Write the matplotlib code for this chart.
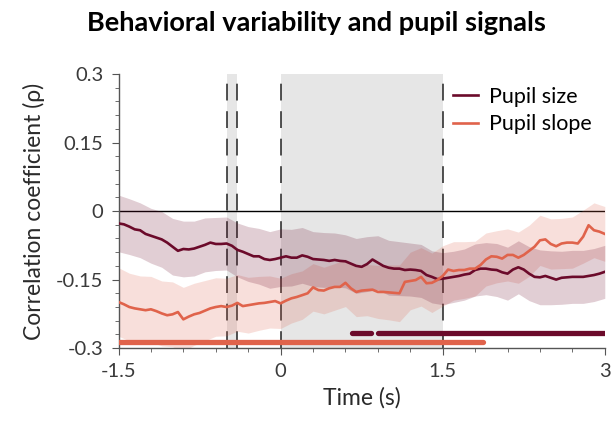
import numpy as np
import matplotlib.pyplot as plt
from matplotlib.ticker import MultipleLocator

plt.rcParams['font.family'] = ['Lato', 'DejaVu Sans']

# time axis (s), sampled every 0.05 s
time = np.round(np.arange(-1.5, 3.001, 0.05), 3)

# pupil size correlation
size_rho = [-0.027, -0.029, -0.034, -0.040, -0.042, -0.050, -0.054, -0.058, -0.062, -0.069,
            -0.078, -0.087, -0.083, -0.084, -0.082, -0.078, -0.074, -0.069, -0.072, -0.072,
            -0.071, -0.076, -0.085, -0.089, -0.094, -0.099, -0.099, -0.105, -0.107, -0.105,
            -0.102, -0.099, -0.102, -0.102, -0.097, -0.100, -0.105, -0.106, -0.107, -0.109,
            -0.107, -0.109, -0.110, -0.115, -0.120, -0.122, -0.116, -0.106, -0.113, -0.120,
            -0.124, -0.126, -0.126, -0.129, -0.128, -0.129, -0.131, -0.140, -0.144, -0.149,
            -0.148, -0.146, -0.144, -0.142, -0.139, -0.137, -0.129, -0.126, -0.126, -0.128,
            -0.129, -0.134, -0.137, -0.128, -0.123, -0.128, -0.137, -0.144, -0.145, -0.142,
            -0.146, -0.150, -0.146, -0.145, -0.144, -0.144, -0.144, -0.142, -0.140, -0.137,
            -0.133]

# pupil slope correlation
slope_rho = [-0.199, -0.204, -0.210, -0.213, -0.215, -0.217, -0.215, -0.219, -0.224, -0.228,
             -0.226, -0.221, -0.237, -0.231, -0.226, -0.223, -0.218, -0.213, -0.210, -0.208,
             -0.210, -0.207, -0.201, -0.208, -0.206, -0.204, -0.202, -0.201, -0.199, -0.197,
             -0.202, -0.196, -0.191, -0.188, -0.184, -0.180, -0.167, -0.173, -0.174, -0.169,
             -0.166, -0.166, -0.157, -0.169, -0.177, -0.174, -0.173, -0.172, -0.177, -0.177,
             -0.178, -0.179, -0.180, -0.155, -0.153, -0.151, -0.144, -0.158, -0.157, -0.151,
             -0.142, -0.128, -0.131, -0.129, -0.129, -0.126, -0.126, -0.118, -0.106, -0.099,
             -0.100, -0.104, -0.096, -0.096, -0.102, -0.096, -0.087, -0.078, -0.064, -0.062,
             -0.072, -0.077, -0.071, -0.069, -0.069, -0.071, -0.056, -0.031, -0.042, -0.045,
             -0.050]

# error half-widths, read every 0.1 s
size_err = [0.062, 0.061, 0.060, 0.060, 0.061, 0.062, 0.061, 0.060, 0.059, 0.058,
            0.058, 0.059, 0.060, 0.061, 0.062, 0.063, 0.062, 0.061, 0.060, 0.060,
            0.059, 0.058, 0.060, 0.060, 0.059, 0.060, 0.059, 0.058, 0.058, 0.057,
            0.057, 0.056, 0.056, 0.057, 0.057, 0.058, 0.058, 0.058, 0.059, 0.060,
            0.059, 0.058, 0.058, 0.058, 0.058, 0.058]
slope_err = [0.075, 0.074, 0.073, 0.072, 0.071, 0.071, 0.070, 0.068, 0.066, 0.064,
             0.063, 0.062, 0.061, 0.059, 0.057, 0.055, 0.054, 0.053, 0.052, 0.051,
             0.051, 0.052, 0.054, 0.056, 0.058, 0.060, 0.062, 0.063, 0.064, 0.065,
             0.066, 0.064, 0.062, 0.060, 0.058, 0.057, 0.057, 0.056, 0.056, 0.055,
             0.055, 0.055, 0.056, 0.058, 0.060, 0.060]

# significant clusters (start, end) in s
size_sig = [(0.66, 0.84), (0.90, 3.0)]
slope_sig = [(-1.5, 1.87)]

# grey epochs
epochs = [(-0.5, -0.4), (0.0, 1.5)]

size_col = '#6b0a2a'
slope_col = '#e0634b'

size_rho, size_err = np.array(size_rho), np.array(size_err)
slope_rho, slope_err = np.array(slope_rho), np.array(slope_err)
t_err = time[::2]

fig = plt.figure(figsize=(6.14, 4.23), dpi=100)
ax = fig.add_axes([0.193, 0.177, 0.792, 0.648])

for a, b in epochs:
    ax.axvspan(a, b, color='#e6e6e6', lw=0, zorder=0)
    ax.axvline(a, color='#222222', lw=1.1, dashes=(11, 7), zorder=1)
    ax.axvline(b, color='#222222', lw=1.1, dashes=(11, 7), zorder=1)

ax.axhline(0, color='black', lw=1, zorder=1)

ax.fill_between(t_err, slope_rho[::2] - slope_err, slope_rho[::2] + slope_err,
                color=slope_col, alpha=0.2, lw=0, zorder=2)
ax.fill_between(t_err, size_rho[::2] - size_err, size_rho[::2] + size_err,
                color=size_col, alpha=0.2, lw=0, zorder=2)

ax.plot(time, size_rho, color=size_col, lw=1.9, label='Pupil size', zorder=3)
ax.plot(time, slope_rho, color=slope_col, lw=1.9, label='Pupil slope', zorder=3)

for a, b in size_sig:
    ax.plot([a, b], [-0.266, -0.266], color=size_col, lw=3.8,
            solid_capstyle='round', zorder=4)
for a, b in slope_sig:
    ax.plot([a, b], [-0.287, -0.287], color=slope_col, lw=3.8,
            solid_capstyle='round', zorder=4)

ax.set_xlim(-1.5, 3)
ax.set_ylim(-0.3, 0.3)
ax.set_xticks([-1.5, 0, 1.5, 3])
ax.set_xticklabels(['-1.5', '0', '1.5', '3'])
ax.set_yticks([-0.3, -0.15, 0, 0.15, 0.3])
ax.set_yticklabels(['-0.3', '-0.15', '0', '0.15', '0.3'])
ax.xaxis.set_minor_locator(MultipleLocator(0.3))
ax.yaxis.set_minor_locator(MultipleLocator(0.03))

for s in ['top', 'right']:
    ax.spines[s].set_visible(False)
for s in ['left', 'bottom']:
    ax.spines[s].set_color('#555555')
    ax.spines[s].set_linewidth(1)
ax.tick_params(which='major', length=5, color='#555555', labelsize=14.5,
               labelcolor='#3a3a3a', pad=6)
ax.tick_params(which='minor', length=3, color='#555555')

ax.set_xlabel('Time (s)', fontsize=16.5, color='#2a2a2a', labelpad=5)
ax.set_ylabel('Correlation coefficient (ρ)', fontsize=16.5, color='#2a2a2a', labelpad=8)
fig.suptitle('Behavioral variability and pupil signals', fontsize=19.5,
             fontweight='bold', x=0.515, y=0.975)

ax.legend(loc='upper right', frameon=False, fontsize=15.5, handlelength=1.2,
          handletextpad=0.5, labelspacing=0.35, borderaxespad=0.2,
          bbox_to_anchor=(1.0, 1.0))

fig.savefig('out.png', dpi=100)
